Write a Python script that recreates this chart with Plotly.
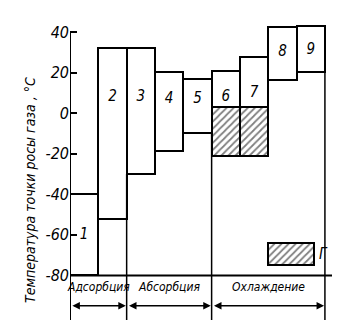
import plotly.graph_objects as go

# ---- data ----
bar_names = ["1", "2", "3", "4", "5", "6", "7", "8", "9"]
bar_bottom = [-80, -52, -30, -18.5, -10, -21, -21, 16.5, 20.5]
bar_top = [-40, 32, 32, 20.5, 17, 21, 27.5, 42.5, 43]
hatch_bottom = [None, None, None, None, None, -21, -21, None, None]
hatch_top = [None, None, None, None, None, 3, 3, None, None]
label_y = [-60, 8, 8, 7, 7, 8, 10, 30, 31]

groups = ["Адсорбция", "Абсорбция", "Охлаждение"]
group_bounds = [0, 2, 5, 9]

y_ticks = [-80, -60, -40, -20, 0, 20, 40]
y_title = "Температура точки росы газа , °С"
legend_label = "Г"

FONT = "Liberation Sans Narrow, DejaVu Sans Condensed, Liberation Sans, sans-serif"

x_centers = [i + 0.5 for i in range(len(bar_names))]
Y_MIN, Y_MAX = -102, 44
X_MAX = 9.25

fig = go.Figure()

fig.add_trace(go.Bar(
    x=x_centers,
    y=[t - b for t, b in zip(bar_top, bar_bottom)],
    base=bar_bottom,
    width=1,
    marker=dict(color="white", line=dict(color="black", width=2)),
    showlegend=False, hoverinfo="skip",
))

hx = [x for x, hb in zip(x_centers, hatch_bottom) if hb is not None]
hb_ = [hb for hb in hatch_bottom if hb is not None]
ht_ = [ht for ht in hatch_top if ht is not None]
hatch_marker = dict(color="white", line=dict(color="black", width=2),
                    pattern=dict(shape="/", fgcolor="black", bgcolor="white",
                                 size=5, solidity=0.35))
fig.add_trace(go.Bar(
    x=hx, y=[t - b for t, b in zip(ht_, hb_)], base=hb_, width=1,
    marker=hatch_marker, showlegend=False, hoverinfo="skip",
))

# legend key (hatched box + label)
key_x, key_w, key_b, key_h = 7.8, 1.6, -75, 11
fig.add_trace(go.Bar(
    x=[key_x], y=[key_h], base=[key_b], width=key_w,
    marker=hatch_marker, showlegend=False, hoverinfo="skip",
))
fig.add_annotation(x=key_x + key_w / 2 + 0.12, y=key_b + key_h / 2, text=legend_label,
                   showarrow=False, xanchor="left",
                   font=dict(family=FONT, size=15, color="black", style="italic"))

# bar numbers
fig.add_trace(go.Scatter(
    x=x_centers, y=label_y, mode="text", text=bar_names,
    textfont=dict(family=FONT, size=15, color="black", style="italic"),
    showlegend=False, hoverinfo="skip",
))

shapes = []
# y axis line
shapes.append(dict(type="line", xref="x", yref="y", x0=0, x1=0, y0=Y_MIN, y1=y_ticks[-1],
                   line=dict(color="black", width=2)))
# baseline
shapes.append(dict(type="line", xref="x", yref="y", x0=0, x1=X_MAX, y0=y_ticks[0], y1=y_ticks[0],
                   line=dict(color="black", width=2)))
# separators below bars
for gb in group_bounds[1:]:
    adj = []
    if gb - 1 >= 0:
        adj.append(bar_bottom[gb - 1])
    if gb < len(bar_bottom):
        adj.append(bar_bottom[gb])
    shapes.append(dict(type="line", xref="x", yref="y", x0=gb, x1=gb, y0=Y_MIN, y1=max(adj),
                       line=dict(color="black", width=1.5)))

annotations = []
for i, g in enumerate(groups):
    a, b = group_bounds[i], group_bounds[i + 1]
    annotations.append(dict(x=(a + b) / 2, y=-85.5, text=g, showarrow=False,
                            font=dict(family=FONT, size=12, color="black", style="italic")))
    annotations.append(dict(x=b - 0.03, y=-95, ax=a + 0.03, ay=-95, axref="x", ayref="y",
                            xref="x", yref="y", text="", showarrow=True,
                            arrowhead=2, startarrowhead=2, arrowside="end+start",
                            arrowsize=1, arrowwidth=1.5, arrowcolor="black"))

annotations.append(dict(xref="paper", yref="paper", x=-0.19, y=0.44, text=y_title,
                        textangle=-90, showarrow=False,
                        font=dict(family="DejaVu Sans Condensed, DejaVu Sans", size=14,
                                  color="black", style="italic")))
for a in annotations:
    fig.add_annotation(**a)

fig.update_layout(
    width=350, height=327,
    margin=dict(l=70, r=18, t=24, b=7),
    paper_bgcolor="white", plot_bgcolor="white",
    barmode="overlay", bargap=0,
    shapes=shapes,
    xaxis=dict(range=[0, X_MAX], visible=False, fixedrange=True),
    yaxis=dict(range=[Y_MIN, Y_MAX], tickvals=y_ticks, ticktext=[str(t) for t in y_ticks],
               ticks="inside", ticklen=7, tickwidth=2, tickcolor="black",
               showline=False, showgrid=False, zeroline=False,
               tickfont=dict(family=FONT, size=16, color="black", style="italic")),
)

fig.write_html("out.html")
